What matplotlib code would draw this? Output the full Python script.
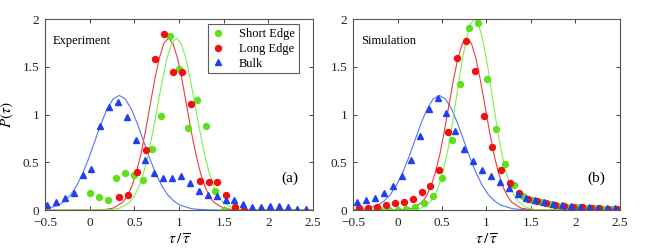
import matplotlib.pyplot as plt

plt.rcParams['font.family'] = ['Liberation Serif', 'DejaVu Serif']
plt.rcParams['mathtext.fontset'] = 'stix'

# ---- Experiment (a): measured points ----
exp_short_x = [0.0, 0.1, 0.2, 0.3, 0.4, 0.5, 0.6, 0.7, 0.8, 0.9, 1.0, 1.1, 1.2, 1.3, 1.4, 1.5]
exp_short_y = [0.18, 0.14, 0.10, 0.33, 0.39, 0.37, 0.31, 0.64, 0.98, 1.82, 1.48, 0.86, 1.15, 0.88, 0.20, 0.0]

exp_long_x = [0.33, 0.43, 0.53, 0.63, 0.73, 0.83, 0.93, 1.03, 1.13, 1.23, 1.33, 1.43, 1.53, 1.63, 1.73]
exp_long_y = [0.14, 0.16, 0.40, 0.63, 1.585, 1.84, 1.445, 1.445, 1.11, 0.30, 0.29, 0.29, 0.16, 0.035, 0.0]

exp_bulk_x = [-0.48, -0.38, -0.28, -0.18, -0.08, 0.02, 0.12, 0.22, 0.32, 0.42, 0.52, 0.62, 0.72, 0.82, 0.92,
              1.02, 1.12, 1.22, 1.32, 1.42, 1.52, 1.62, 1.72, 1.82, 1.92, 2.02, 2.12, 2.22, 2.32, 2.42]
exp_bulk_y = [0.05, 0.08, 0.13, 0.18, 0.37, 0.43, 0.88, 1.08, 1.13, 0.97, 0.73, 0.52, 0.39, 0.33, 0.33,
              0.36, 0.28, 0.20, 0.16, 0.15, 0.10, 0.10, 0.06, 0.03, 0.035, 0.045, 0.045, 0.03, 0.015, 0.015]

# ---- Experiment (a): fitted curves ----
exp_bulk_fit_x = [-0.75, -0.615, -0.48, -0.345, -0.278, -0.21, -0.143, -0.075, -0.008, 0.06, 0.128, 0.195, 0.263, 0.33,
                  0.398, 0.465, 0.533, 0.60, 0.668, 0.735, 0.803, 0.87, 0.938, 1.005, 1.14, 1.275, 1.41, 2.5]
bulk_fit_y = [0.0, 0.003, 0.013, 0.053, 0.096, 0.162, 0.260, 0.390, 0.549, 0.728, 0.906, 1.059, 1.163, 1.200,
              1.163, 1.059, 0.906, 0.728, 0.549, 0.390, 0.260, 0.162, 0.096, 0.053, 0.013, 0.003, 0.0, 0.0]

exp_long_fit_x = [-0.5, 0.06, 0.163, 0.265, 0.368, 0.419, 0.47, 0.521, 0.573, 0.624, 0.675, 0.726, 0.778, 0.829, 0.88,
                  0.931, 0.983, 1.034, 1.085, 1.136, 1.188, 1.239, 1.29, 1.341, 1.393, 1.495, 1.598, 1.70, 2.5]
edge_fit_y = [0.0, 0.001, 0.004, 0.020, 0.079, 0.143, 0.244, 0.389, 0.584, 0.824, 1.092, 1.359, 1.589, 1.745, 1.8,
              1.745, 1.589, 1.359, 1.092, 0.824, 0.584, 0.389, 0.244, 0.143, 0.079, 0.020, 0.004, 0.001, 0.0]

exp_short_fit_x = [-0.5, 0.13, 0.235, 0.34, 0.445, 0.498, 0.55, 0.603, 0.655, 0.708, 0.76, 0.813, 0.865, 0.918, 0.97,
                   1.023, 1.075, 1.128, 1.18, 1.233, 1.285, 1.338, 1.39, 1.443, 1.495, 1.60, 1.705, 1.81, 2.5]

# ---- Simulation (b): points ----
sim_short_x = [-0.2, -0.1, 0.0, 0.1, 0.2, 0.3, 0.4, 0.5, 0.61, 0.705, 0.806, 0.906, 1.007, 1.108, 1.21, 1.31,
               1.41, 1.51, 1.61, 1.71, 1.81, 1.91, 2.01, 2.11, 2.21, 2.31, 2.41]
sim_short_y = [0.005, 0.005, 0.005, 0.015, 0.03, 0.075, 0.145, 0.34, 0.73, 1.32, 1.906, 1.96, 1.37, 0.845, 0.486, 0.26,
               0.15, 0.11, 0.08, 0.06, 0.045, 0.035, 0.03, 0.025, 0.02, 0.015, 0.01]

sim_long_x = [-0.43, -0.33, -0.23, -0.13, -0.03, 0.07, 0.17, 0.27, 0.37, 0.47, 0.57, 0.67, 0.77, 0.87, 0.97, 1.065,
              1.166, 1.27, 1.37, 1.47, 1.57, 1.67, 1.77, 1.87, 1.97, 2.07, 2.17, 2.27, 2.37, 2.47]
sim_long_y = [0.02, 0.02, 0.035, 0.055, 0.07, 0.085, 0.12, 0.19, 0.25, 0.42, 0.82, 1.595, 1.775, 1.455, 0.98, 0.66,
              0.42, 0.28, 0.18, 0.12, 0.09, 0.07, 0.05, 0.04, 0.03, 0.03, 0.02, 0.02, 0.015, 0.01]

sim_bulk_x = [-0.45, -0.35, -0.25, -0.15, -0.05, 0.05, 0.15, 0.25, 0.35, 0.45, 0.55, 0.65, 0.75, 0.85, 0.95,
              1.05, 1.15, 1.25, 1.35, 1.45, 1.55, 1.65, 1.75, 1.85, 1.95, 2.05, 2.15, 2.25, 2.35, 2.45]
sim_bulk_y = [0.08, 0.10, 0.13, 0.18, 0.25, 0.36, 0.52, 0.78, 1.06, 1.17, 1.02, 0.83, 0.64, 0.51, 0.42,
              0.36, 0.29, 0.23, 0.17, 0.13, 0.10, 0.08, 0.06, 0.05, 0.04, 0.035, 0.03, 0.025, 0.02, 0.02]

# ---- Simulation (b): fitted curves ----
sim_bulk_fit_x = [-0.63, -0.493, -0.355, -0.218, -0.149, -0.08, -0.011, 0.058, 0.126, 0.195, 0.264, 0.333, 0.401, 0.47,
                  0.539, 0.608, 0.676, 0.745, 0.814, 0.883, 0.951, 1.02, 1.089, 1.158, 1.295, 1.433, 1.57, 2.5]

sim_long_fit_x = [-0.5, -0.032, 0.07, 0.171, 0.273, 0.323, 0.374, 0.425, 0.476, 0.526, 0.577, 0.628, 0.679, 0.729, 0.78,
                  0.831, 0.881, 0.932, 0.983, 1.034, 1.084, 1.135, 1.186, 1.237, 1.287, 1.389, 1.49, 1.592, 2.5]

sim_short_fit_x = [-0.5, 0.077, 0.176, 0.274, 0.373, 0.422, 0.471, 0.52, 0.57, 0.619, 0.668, 0.717, 0.767, 0.816, 0.865,
                   0.914, 0.963, 1.013, 1.062, 1.111, 1.16, 1.21, 1.259, 1.308, 1.358, 1.456, 1.555, 1.653, 2.5]
sim_short_fit_y = [0.0, 0.001, 0.004, 0.022, 0.088, 0.159, 0.271, 0.433, 0.649, 0.916, 1.213, 1.51, 1.765, 1.938, 2.0,
                   1.938, 1.765, 1.51, 1.213, 0.916, 0.649, 0.433, 0.271, 0.159, 0.088, 0.022, 0.004, 0.001, 0.0]

xticks = [-0.5, 0, 0.5, 1, 1.5, 2, 2.5]
xticklabels = ['\u22120.5', '0', '0.5', '1', '1.5', '2', '2.5']
yticks = [0, 0.5, 1, 1.5, 2]
yticklabels = ['0', '0.5', '1', '1.5', '2']

GREEN = '#5ee01c'
GREEN_LINE = '#7ef04a'
RED = '#f01010'
RED_LINE = '#f03a3a'
BLUE = '#2040f0'
BLUE_LINE = '#5a72f0'

fig = plt.figure(figsize=(6.54, 2.49), dpi=100)
ax1 = fig.add_axes([0.0688, 0.1566, 0.41, 0.767])
ax2 = fig.add_axes([0.5398, 0.1566, 0.408, 0.767])


def draw(ax, fits, pts, label, tag):
    for fx, fy, c in fits:
        ax.plot(fx, fy, '-', color=c, lw=0.8)
    for px, py, c, m, ms, name in pts:
        ax.plot(px, py, m, color=c, ms=ms, mec=c, ls='none', label=name)
    ax.set_xlim(-0.5, 2.5)
    ax.set_ylim(0, 2)
    ax.set_xticks(xticks)
    ax.set_xticklabels(xticklabels)
    ax.set_yticks(yticks)
    ax.set_yticklabels(yticklabels)
    ax.tick_params(direction='in', length=3, width=0.6, top=True, right=True,
                   labelsize=9.5, colors='#222222')
    ax.tick_params(axis='x', pad=5)
    ax.tick_params(axis='y', pad=4)
    for s in ax.spines.values():
        s.set_color('#555555')
        s.set_linewidth(0.8)
    ax.set_xlabel(r'$\tau\,/\,\overline{\tau}$', fontsize=11, labelpad=3)
    ax.text(0.03, 0.87, label, transform=ax.transAxes, fontsize=9)
    ax.text(0.88, 0.145, tag, transform=ax.transAxes, fontsize=11)


draw(ax1,
     [(exp_bulk_fit_x, bulk_fit_y, BLUE_LINE),
      (exp_long_fit_x, edge_fit_y, RED_LINE),
      (exp_short_fit_x, edge_fit_y, GREEN_LINE)],
     [(exp_short_x, exp_short_y, GREEN, 'o', 4.3, 'Short Edge'),
      (exp_long_x, exp_long_y, RED, 'o', 4.3, 'Long Edge'),
      (exp_bulk_x, exp_bulk_y, BLUE, '^', 4.3, 'Bulk')],
     'Experiment', '(a)')

draw(ax2,
     [(sim_bulk_fit_x, bulk_fit_y, BLUE_LINE),
      (sim_long_fit_x, edge_fit_y, RED_LINE),
      (sim_short_fit_x, sim_short_fit_y, GREEN_LINE)],
     [(sim_short_x, sim_short_y, GREEN, 'o', 4.3, 'Short Edge'),
      (sim_long_x, sim_long_y, RED, 'o', 4.3, 'Long Edge'),
      (sim_bulk_x, sim_bulk_y, BLUE, '^', 4.3, 'Bulk')],
     'Simulation', '(b)')

ax1.set_ylabel(r'$P(\tau)$', fontsize=11, labelpad=5)

leg = ax1.legend(loc='upper right', bbox_to_anchor=(0.955, 0.985), fontsize=9,
                 frameon=True, fancybox=False, handlelength=1.0, handletextpad=1.2,
                 borderpad=0.3, labelspacing=0.22, borderaxespad=0.2)
leg.get_frame().set_edgecolor('#333333')
leg.get_frame().set_linewidth(0.8)

plt.savefig('out.png', dpi=100)
